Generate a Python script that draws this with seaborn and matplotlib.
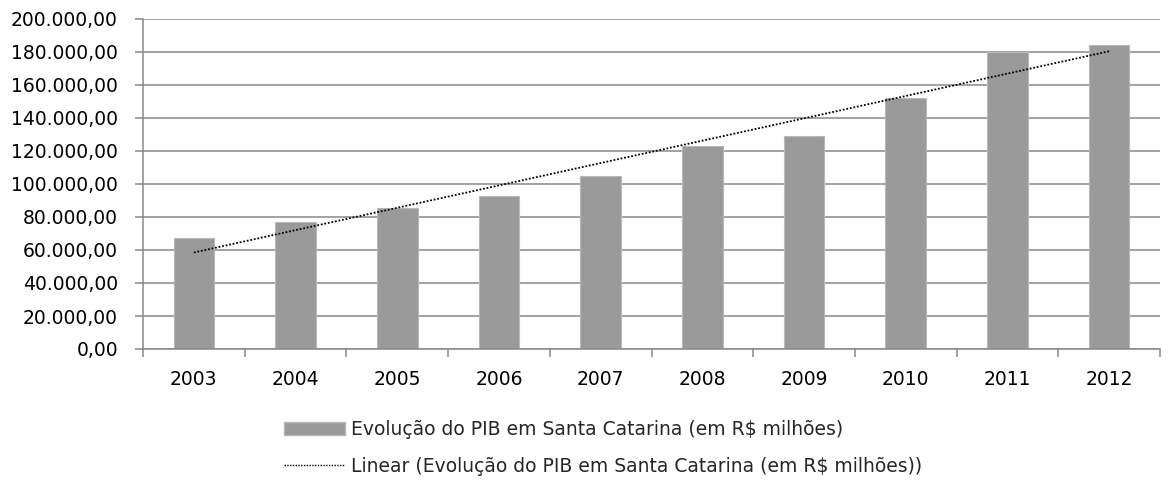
import numpy as np
import pandas as pd
import matplotlib
matplotlib.use("Agg")
import matplotlib.pyplot as plt
from matplotlib.ticker import FuncFormatter, FixedLocator
from matplotlib.patches import Patch
from matplotlib.lines import Line2D
import seaborn as sns

years = ["2003", "2004", "2005", "2006", "2007", "2008", "2009", "2010", "2011", "2012"]
pib = [67000, 76700, 85500, 92800, 104700, 122800, 129300, 151900, 179700, 184300]
series_label = "Evolução do PIB em Santa Catarina (em R$ milhões)"
trend_label = "Linear (Evolução do PIB em Santa Catarina (em R$ milhões))"

sns.set_theme(style="white")
plt.rcParams["font.family"] = ["DejaVu Sans"]

df = pd.DataFrame({"ano": years, "pib": pib, "pos": np.arange(len(years))})

fig = plt.figure(figsize=(11.71, 4.83), dpi=100)
ax = fig.add_axes([143 / 1171, 1 - 349 / 483, (1160 - 143) / 1171, (349 - 19) / 483])

grid_c = "#898989"
fs = 13.5
ax.set_axisbelow(True)
ax.yaxis.grid(True, color=grid_c, lw=1.1)

sns.barplot(data=df, x="ano", y="pib", color="#9a9a9a", width=0.4,
            saturation=1, edgecolor="#b8b8b8", linewidth=0.8, ax=ax)

sns.regplot(data=df, x="pos", y="pib", scatter=False, ci=None, truncate=True,
            line_kws={"color": "black", "ls": (0, (1, 1)), "lw": 1.3}, ax=ax)

ax.set_xlim(-0.5, len(years) - 0.5)
ax.set_ylim(0, 200000)
ax.set_yticks(np.arange(0, 200001, 20000))

def br(v, pos):
    s = f"{v:,.2f}"
    return s.replace(",", "X").replace(".", ",").replace("X", ".")

ax.yaxis.set_major_formatter(FuncFormatter(br))
ax.set_xlabel("")
ax.set_ylabel("")

for s in ["top", "right"]:
    ax.spines[s].set_visible(False)
for s in ["left", "bottom"]:
    ax.spines[s].set_color(grid_c)
    ax.spines[s].set_linewidth(1.1)

ax.tick_params(axis="y", which="major", length=6, width=1.1, color=grid_c,
               direction="out", labelsize=fs, pad=12, left=True)
ax.tick_params(axis="x", which="major", length=0, labelsize=fs, pad=15)
ax.xaxis.set_minor_locator(FixedLocator(np.arange(-0.5, len(years), 1.0)))
ax.tick_params(axis="x", which="minor", length=6, width=1.1, color=grid_c,
               direction="out", bottom=True)
for lab in ax.get_xticklabels() + ax.get_yticklabels():
    lab.set_color("black")

handles = [Patch(facecolor="#9a9a9a", edgecolor="#b8b8b8"),
           Line2D([0], [0], color="black", ls=(0, (1, 1)), lw=1.0)]
fig.legend(handles, [series_label, trend_label], loc="center left",
           bbox_to_anchor=(284 / 1171, 1 - 448 / 483), frameon=False,
           fontsize=fs, handlelength=3.25, handleheight=0.75, handletextpad=0.3,
           labelspacing=0.95, borderpad=0, borderaxespad=0, alignment="left")

fig.savefig("out.png", dpi=100)
